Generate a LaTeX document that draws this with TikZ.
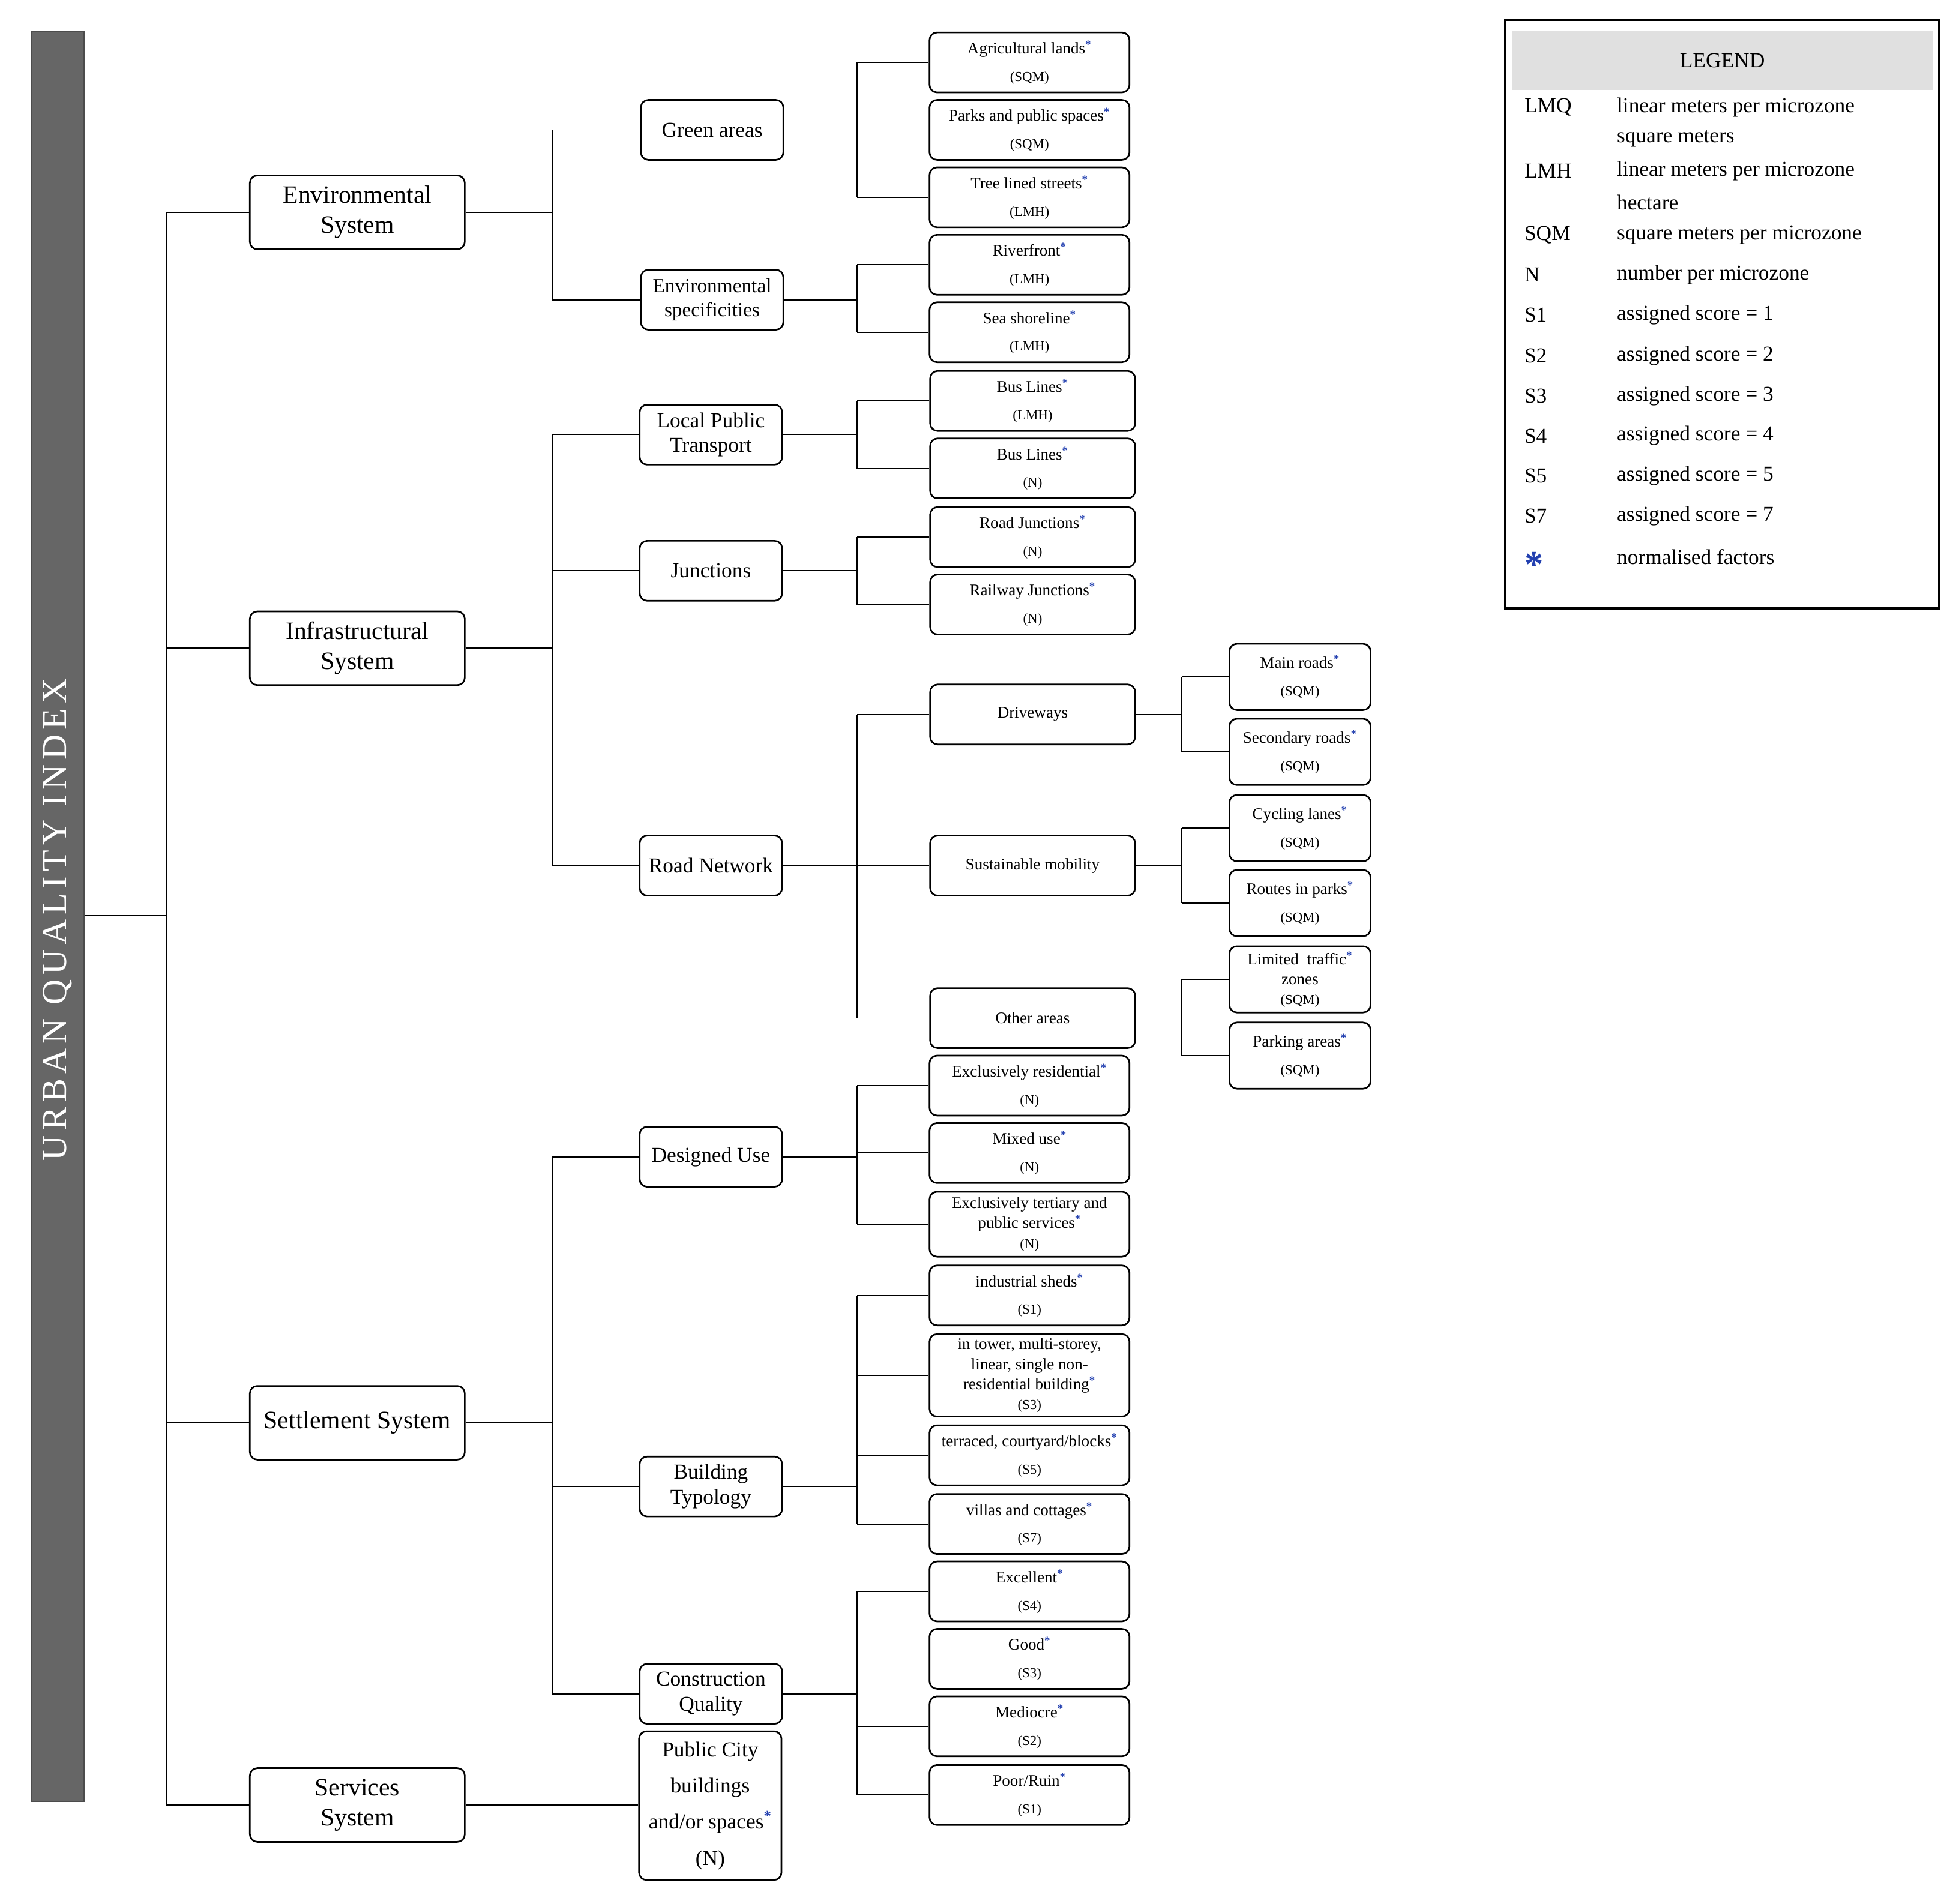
\documentclass[tikz,border=0pt]{standalone}
\usepackage{fontspec}
\setmainfont{Liberation Serif}
\usetikzlibrary{calc}
\definecolor{starblue}{HTML}{2340B0}
\newcommand{\st}{\textsuperscript{\textcolor{starblue}{\bfseries *}}}
\newcommand{\sm}[1]{{\fontsize{11}{14}\selectfont #1}}
\begin{document}
\begin{tikzpicture}[x=1pt,y=-1pt,
  box/.style={draw,line width=1.3pt,rounded corners=6pt,align=center,inner sep=1pt},
  l1/.style={box,minimum width=172pt,minimum height=59pt,font=\fontsize{20}{24}\selectfont},
  l2/.style={box,minimum width=114pt,minimum height=48pt,font=\fontsize{17}{20}\selectfont},
  l3/.style={box,minimum width=160pt,minimum height=48pt,font=\fontsize{13}{22}\selectfont},
  l4/.style={box,minimum width=113pt,minimum height=53pt,font=\fontsize{13}{22}\selectfont},
  wire/.style={line width=0.9pt},
  lg/.style={anchor=west,font=\fontsize{17}{20}\selectfont,inner sep=0pt}]
\useasboundingbox (0,0) rectangle (1568,1524);
% bar
\node[fill=black!60,draw=black!70,line width=1pt,minimum width=42pt,minimum height=1417pt,inner sep=0pt] (uqi) at (46,733.5) {};
\node[rotate=90,text=white,font=\fontsize{28}{30}\selectfont\addfontfeatures{LetterSpace=14}] at (46,736) {URBAN QUALITY INDEX};
% level 1
\node[l1] (env) at (286,170) {Environmental\\System};
\node[l1] (inf) at (286,519) {Infrastructural\\System};
\node[l1] (set) at (286,1139) {Settlement System};
\node[l1] (ser) at (286,1445) {Services\\System};
\coordinate (b0) at (133,0);
\draw[wire] (uqi.east|-0,733) -- (b0|-0,733);
\draw[wire] (b0|-env.west) -- (b0|-ser.west);
\foreach \n in {env,inf,set,ser} \draw[wire] (b0|-\n.west) -- (\n.west);
% level 2
\node[l2] (green) at (570,104) {Green areas};
\node[l2,font=\fontsize{16}{19}\selectfont] (spec) at (570,240) {Environmental\\specificities};
\node[l2] (lpt) at (569,348) {Local Public\\Transport};
\node[l2] (jun) at (569,457) {Junctions};
\node[l2] (road) at (569,693) {Road Network};
\node[l2] (des) at (569,926) {Designed Use};
\node[l2] (bty) at (569,1190) {Building\\Typology};
\node[l2] (cq) at (569,1356) {Construction\\Quality};
\node[l2,minimum height=119pt,font=\fontsize{17}{29}\selectfont] (pcb) at (568.5,1445.5) {Public City\\buildings\\and/or spaces\st\\(N)};
\coordinate (b1) at (442,0);
\foreach \p/\a/\b in {env/green/spec,inf/lpt/road,set/des/cq}{
  \draw[wire] (\p.east) -- (\p.east-|b1);
  \draw[wire] (b1|-\a.west) -- (b1|-\b.west);}
\foreach \c in {green,spec,lpt,jun,road,des,bty,cq} \draw[wire] (b1|-\c.west) -- (\c.west);
\draw[wire] (ser.east) -- (pcb.west|-ser.east);
% level 3
\begin{scope}[every node/.append style={l3}]
\node (agr) at (824,50) {Agricultural lands\st\\\sm{(SQM)}};
\node (park) at (824,104) {Parks and public spaces\st\\\sm{(SQM)}};
\node (tree) at (824,158) {Tree lined streets\st\\\sm{(LMH)}};
\node (riv) at (824,212) {Riverfront\st\\\sm{(LMH)}};
\node (sea) at (824,266) {Sea shoreline\st\\\sm{(LMH)}};
\node[minimum width=164pt] (bus1) at (826.5,321) {Bus Lines\st\\\sm{(LMH)}};
\node[minimum width=164pt] (bus2) at (826.5,375) {Bus Lines\st\\\sm{(N)}};
\node[minimum width=164pt] (rj) at (826.5,430) {Road Junctions\st\\\sm{(N)}};
\node[minimum width=164pt] (raj) at (826.5,484) {Railway Junctions\st\\\sm{(N)}};
\node[minimum width=164pt] (drv) at (826.5,572) {Driveways};
\node[minimum width=164pt] (sus) at (826.5,693) {Sustainable mobility};
\node[minimum width=164pt] (oth) at (826.5,815) {Other areas};
\node (exr) at (824,869) {Exclusively residential\st\\\sm{(N)}};
\node (mix) at (824,923) {Mixed use\st\\\sm{(N)}};
\node[minimum height=52pt,font=\fontsize{13}{16}\selectfont] (ext) at (824,980) {Exclusively tertiary and\\public services\st\\\sm{(N)}};
\node (ind) at (824,1037) {industrial sheds\st\\\sm{(S1)}};
\node[minimum height=66pt,font=\fontsize{13}{16}\selectfont] (tow) at (824,1101) {in tower, multi-storey,\\linear, single non-\\residential building\st\\\sm{(S3)}};
\node (ter) at (824,1165) {terraced, courtyard/blocks\st\\\sm{(S5)}};
\node (vil) at (824,1220) {villas and cottages\st\\\sm{(S7)}};
\node (exc) at (824,1274) {Excellent\st\\\sm{(S4)}};
\node (good) at (824,1328) {Good\st\\\sm{(S3)}};
\node (med) at (824,1382) {Mediocre\st\\\sm{(S2)}};
\node (poor) at (824,1437) {Poor/Ruin\st\\\sm{(S1)}};
\end{scope}
\coordinate (b2) at (686,0);
\foreach \p/\a/\b in {green/agr/tree,spec/riv/sea,lpt/bus1/bus2,jun/rj/raj,road/drv/oth,des/exr/ext,bty/ind/vil,cq/exc/poor}{
  \draw[wire] (\p.east) -- (\p.east-|b2);
  \draw[wire] (b2|-\a.west) -- (b2|-\b.west);}
\foreach \c in {agr,park,tree,riv,sea,bus1,bus2,rj,raj,drv,sus,oth,exr,mix,ext,ind,tow,ter,vil,exc,good,med,poor} \draw[wire] (b2|-\c.west) -- (\c.west);
% level 4
\begin{scope}[every node/.append style={l4}]
\node (mr) at (1040.5,542) {Main roads\st\\\sm{(SQM)}};
\node (sr) at (1040.5,602) {Secondary roads\st\\\sm{(SQM)}};
\node (cl) at (1040.5,663) {Cycling lanes\st\\\sm{(SQM)}};
\node (rp) at (1040.5,723) {Routes in parks\st\\\sm{(SQM)}};
\node[font=\fontsize{13}{16}\selectfont] (ltz) at (1040.5,784) {Limited\ \ traffic\st\\zones\\\sm{(SQM)}};
\node (pa) at (1040.5,845) {Parking areas\st\\\sm{(SQM)}};
\end{scope}
\coordinate (b3) at (946,0);
\foreach \p/\a/\b in {drv/mr/sr,sus/cl/rp,oth/ltz/pa}{
  \draw[wire] (\p.east) -- (\p.east-|b3);
  \draw[wire] (b3|-\a.west) -- (b3|-\b.west);
  \draw[wire] (b3|-\a.west) -- (\a.west);
  \draw[wire] (b3|-\b.west) -- (\b.west);}
% legend
\node[draw,line width=2pt,minimum width=347pt,minimum height=471pt,inner sep=0pt] (leg) at (1378.5,251.5) {};
\node[fill=black!12,minimum width=337pt,minimum height=47pt,font=\fontsize{17}{20}\selectfont] (legh) at (1378.5,48.5) {LEGEND};
\foreach \y/\a/\b in {86/LMQ/linear meters per microzone,111//square meters,137/LMH/linear meters per microzone,162//hectare,188/SQM/square meters per microzone,220/N/number per microzone,252/S1/assigned score = 1,285/S2/assigned score = 2,317/S3/assigned score = 3,349/S4/assigned score = 4,381/S5/assigned score = 5,413/S7/assigned score = 7,446//normalised factors}{
  \node[lg] at (1220,\y) {\a};
  \node[lg] at (1294,\y) {\b};}
\node[lg,text=starblue,font=\fontsize{30}{30}\selectfont\bfseries] at (1220,452) {*};
\end{tikzpicture}
\end{document}
